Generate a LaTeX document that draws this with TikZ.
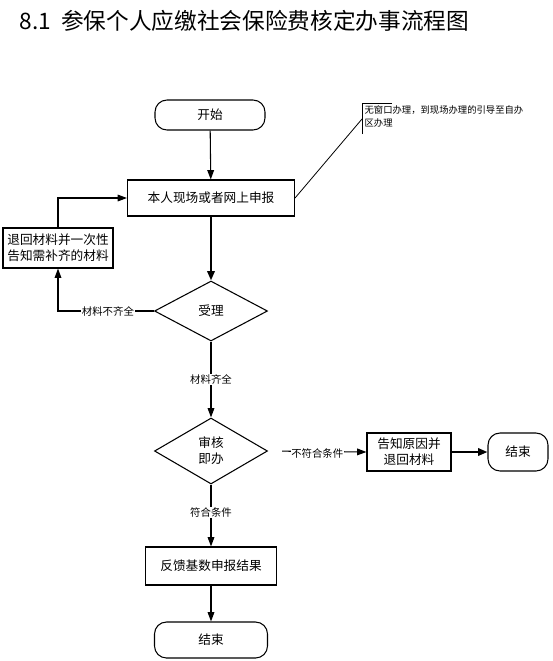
\documentclass[tikz,border=0pt]{standalone}
\usepackage{fontspec}
\setmainfont{Noto Sans CJK SC}
\usetikzlibrary{shapes.geometric,arrows.meta}
\begin{document}
\begin{tikzpicture}[x=0.75pt,y=-0.75pt,
  box/.style={draw,line width=0.8pt,rectangle,inner sep=1pt,align=center,font=\fontsize{9.5}{12}\selectfont},
  term/.style={draw,line width=0.8pt,rounded corners=9pt,align=center,font=\fontsize{9.5}{12}\selectfont},
  dia/.style={draw,line width=0.8pt,diamond,aspect=1.9,inner sep=0pt,align=center,font=\fontsize{9.5}{12}\selectfont},
  conn/.style={line width=0.8pt,-{Triangle[length=7pt,width=5pt]}},
  thk/.style={line width=1.6pt,-{Triangle[length=7pt,width=5.5pt]}},
  lab/.style={fill=white,inner sep=0.5pt,font=\fontsize{7.8}{9}\selectfont}]
\useasboundingbox (0,0) rectangle (553,661);
\node[anchor=west,font=\fontsize{17}{20}\selectfont] (title) at (15,21) {8.1\ \ 参保个人应缴社会保险费核定办事流程图};

\node[term,minimum width=110*0.75pt,minimum height=30*0.75pt] (start) at (210,115) {开始};
\node[box,minimum width=167*0.75pt,minimum height=36*0.75pt] (apply) at (211,198) {本人现场或者网上申报};
\node[dia,minimum width=113*0.75pt,minimum height=60*0.75pt] (accept) at (211,311) {受理};
\node[box,minimum width=110*0.75pt,minimum height=40*0.75pt,align=left] (ret) at (58,248) {退回材料并一次性\\告知需补齐的材料};
\node[dia,minimum width=113*0.75pt,minimum height=66*0.75pt] (review) at (211,451) {审核\\即办};
\node[box,minimum width=84*0.75pt,minimum height=38*0.75pt] (notify) at (409,452) {告知原因并\\退回材料};
\node[term,minimum width=60*0.75pt,minimum height=38*0.75pt] (end1) at (518,452) {结束};
\node[box,minimum width=131*0.75pt,minimum height=38*0.75pt] (feed) at (211,566) {反馈基数申报结果};
\node[term,minimum width=113*0.75pt,minimum height=36*0.75pt] (end2) at (211,640) {结束};

% callout
\coordinate (cA) at (362,134);
\coordinate (cB) at (362,103);
\coordinate (cC) at (392,103);
\draw[line width=0.6pt] (cA) -- (cB) -- (cC);
\node[anchor=north west,inner sep=1pt,align=left,font=\fontsize{7}{9.5}\selectfont] (note) at (363,104) {无窗口办理，到现场办理的引导至自办\\区办理};
\coordinate (cN) at (362,119);
\draw[line width=0.6pt] (apply.east) -- (cN);

\draw[conn] (start) -- (apply);
\draw[thk] (apply) -- (accept);
\draw[conn] (accept.west) -| node[lab,pos=0.24] {材料不齐全} (ret.south);
\draw[conn] (ret.north) |- (apply.west);
\draw[conn] (accept.south) -- node[lab,pos=0.5] {材料齐全} (review.north);
\draw[conn,shorten <=14*0.75pt] (review.east) -- node[lab,pos=0.5,above=-6pt] {不符合条件} (notify.west);
\draw[thk] (notify) -- (end1);
\draw[conn] (review.south) -- node[lab,pos=0.45] {符合条件} (feed.north);
\draw[conn] (feed) -- (end2);
\end{tikzpicture}
\end{document}
